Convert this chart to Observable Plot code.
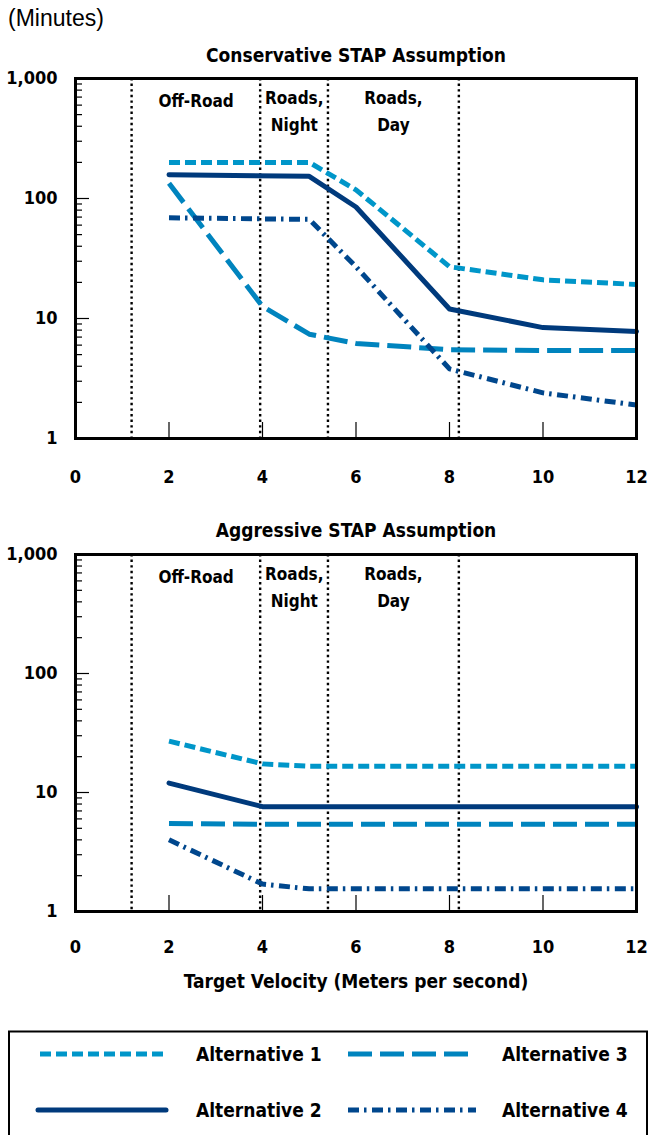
<!DOCTYPE html>
<html><head><meta charset="utf-8">
<script src="https://cdn.jsdelivr.net/npm/d3@7"></script>
<script src="https://cdn.jsdelivr.net/npm/@observablehq/plot@0.6"></script>
<style>
body{margin:0;background:#fff;width:650px;height:1135px;overflow:hidden;position:relative;}
.abs{position:absolute;left:0;}
#units{position:absolute;left:8px;top:5px;font-family:"Liberation Sans",Arial,sans-serif;font-size:23px;color:#000;}
</style></head><body>
<div id="units">(Minutes)</div>
<div id="c1" class="abs" style="top:40px"></div>
<div id="c2" class="abs" style="top:510px"></div>
<div id="legend" class="abs" style="top:1030px"></div>
<script>
const FONT = '"Liberation Sans Narrow","DejaVu Sans Condensed","Roboto Condensed",sans-serif';

// Series names and styling
const seriesNames = ["Alternative 1", "Alternative 2", "Alternative 3", "Alternative 4"];
const seriesColors = ["#0096c9", "#003a7c", "#0084be", "#00478d"];
const seriesDash = ["11,5", null, "24,8", "11,5,2.5,5.5"];

// Conservative STAP Assumption (minutes vs target velocity m/s)
const consAlt1X = [2, 5, 6, 8, 10, 12];
const consAlt1Y = [200, 200, 118, 27, 21, 19.2];
const consAlt2X = [2, 5, 6, 8, 10, 12];
const consAlt2Y = [158, 153, 85, 12, 8.4, 7.8];
const consAlt3X = [2, 4, 5, 6, 8, 10, 12];
const consAlt3Y = [134, 12.6, 7.4, 6.2, 5.5, 5.4, 5.4];
const consAlt4X = [2, 5, 6, 8, 10, 12];
const consAlt4Y = [69, 67, 27, 3.8, 2.4, 1.9];

// Aggressive STAP Assumption
const aggAlt1X = [2, 4, 5, 12];
const aggAlt1Y = [27, 17.4, 16.6, 16.6];
const aggAlt2X = [2, 4, 12];
const aggAlt2Y = [12, 7.6, 7.6];
const aggAlt3X = [2, 4, 12];
const aggAlt3Y = [5.5, 5.4, 5.4];
const aggAlt4X = [2, 4, 5, 12];
const aggAlt4Y = [4, 1.7, 1.55, 1.55];

// Region boundaries (m/s) and labels
const boundaries = [1.2, 3.95, 5.4, 8.2];
const regionLabels = ["Off-Road", "Roads,\nNight", "Roads,\nDay"];
const regionCenters = [2.58, 4.68, 6.8];

// Ticks
const xTickLabels = [0, 2, 4, 6, 8, 10, 12];
const xInnerTicks = [2, 4, 6, 8, 10];
const yMajorTicks = [1, 10, 100, 1000];
const yMinorTicks = [2,3,4,5,6,7,8,9,20,30,40,50,60,70,80,90,200,300,400,500,600,700,800,900];

function rowsOf(xs, ys) {
  return xs.map((x, i) => ({x, y: ys[i]}));
}

const consData = [
  rowsOf(consAlt1X, consAlt1Y), rowsOf(consAlt2X, consAlt2Y),
  rowsOf(consAlt3X, consAlt3Y), rowsOf(consAlt4X, consAlt4Y)
];
const aggData = [
  rowsOf(aggAlt1X, aggAlt1Y), rowsOf(aggAlt2X, aggAlt2Y),
  rowsOf(aggAlt3X, aggAlt3Y), rowsOf(aggAlt4X, aggAlt4Y)
];

function panel(data, title, opts) {
  const {height, marginTop, marginBottom, xLabel, xPad} = opts;
  const regions = regionLabels.map((t, i) => ({t, x: regionCenters[i], one: !t.includes("\n")}));
  const marks = [
    Plot.ruleX(boundaries, {stroke: "#000", strokeWidth: 2.4, strokeDasharray: "2.4,3.2"}),
    Plot.text(regions.filter(d => d.one), {x: "x", text: "t", frameAnchor: "top", dy: 23, lineAnchor: "middle", fontSize: 17, fontWeight: "bold", fill: "#000"}),
    Plot.text(regions.filter(d => !d.one), {x: "x", text: "t", frameAnchor: "top", dy: 30, lineAnchor: "middle", fontSize: 17, fontWeight: "bold", fill: "#000", lineHeight: 1.6}),
    ...data.map((rows, i) => Plot.line(rows, {
      x: "x", y: "y", stroke: seriesColors[i], strokeWidth: 5,
      strokeDasharray: seriesDash[i], strokeLinecap: seriesDash[i] ? "butt" : "round", strokeLinejoin: "round"
    })),
    Plot.axisY(yMinorTicks, {tickSize: -7, tickFormat: () => "", strokeWidth: 1.2, label: null}),
    Plot.axisY(yMajorTicks, {tickSize: -14, tickFormat: () => "", strokeWidth: 1.2, label: null}),
    Plot.axisY(yMajorTicks, {tickSize: 0, tickPadding: 18, tickFormat: d3.format(","), fontSize: 18, fontWeight: "bold", label: null}),
    Plot.axisX(xInnerTicks, {tickSize: -16, tickFormat: () => "", strokeWidth: 1.2, label: null}),
    Plot.axisX(xTickLabels, {tickSize: 0, tickPadding: xPad, fontSize: 18, fontWeight: "bold", label: null}),
    Plot.frame({stroke: "#000", strokeWidth: 3}),
    Plot.text([title], {frameAnchor: "top", dy: opts.titleDy, lineAnchor: "middle", fontSize: 19, fontWeight: "bold", fill: "#000"})
  ];
  if (xLabel) marks.push(Plot.text([xLabel], {frameAnchor: "bottom", dy: 70, lineAnchor: "middle", fontSize: 19, fontWeight: "bold", fill: "#000"}));
  return Plot.plot({
    width: 650, height, marginLeft: 75, marginRight: 14, marginTop, marginBottom,
    style: {fontFamily: FONT, color: "#000", background: "transparent", overflow: "visible"},
    x: {domain: [0, 12]},
    y: {type: "log", domain: [1, 1000]},
    marks
  });
}

document.getElementById("c1").append(panel(consData, "Conservative STAP Assumption", {height: 460, marginTop: 38, marginBottom: 62, xPad: 32, titleDy: -23}));
document.getElementById("c2").append(panel(aggData, "Aggressive STAP Assumption", {height: 490, marginTop: 44, marginBottom: 89, xPad: 29, titleDy: -24, xLabel: "Target Velocity (Meters per second)"}));

// Legend
const lg = d3.select("#legend").append("svg").attr("width", 650).attr("height", 105)
  .style("font-family", FONT);
lg.append("rect").attr("x", 9).attr("y", 1.5).attr("width", 638).attr("height", 120)
  .attr("fill", "none").attr("stroke", "#000").attr("stroke-width", 2);
const legendItems = [
  {i: 0, x1: 40, x2: 163, tx: 196, y: 24},
  {i: 2, x1: 348, x2: 469, tx: 502, y: 24},
  {i: 1, x1: 38, x2: 166, tx: 196, y: 80},
  {i: 3, x1: 348, x2: 476, tx: 502, y: 80}
];
legendItems.forEach(d => {
  lg.append("line").attr("x1", d.x1).attr("x2", d.x2).attr("y1", d.y).attr("y2", d.y)
    .attr("stroke", seriesColors[d.i]).attr("stroke-width", 5)
    .attr("stroke-dasharray", seriesDash[d.i])
    .attr("stroke-linecap", seriesDash[d.i] ? "butt" : "round");
  lg.append("text").attr("x", d.tx).attr("y", d.y).attr("dy", "0.35em")
    .attr("font-size", 19).attr("font-weight", "bold").attr("fill", "#000")
    .text(seriesNames[d.i]);
});
</script>
</body></html>
